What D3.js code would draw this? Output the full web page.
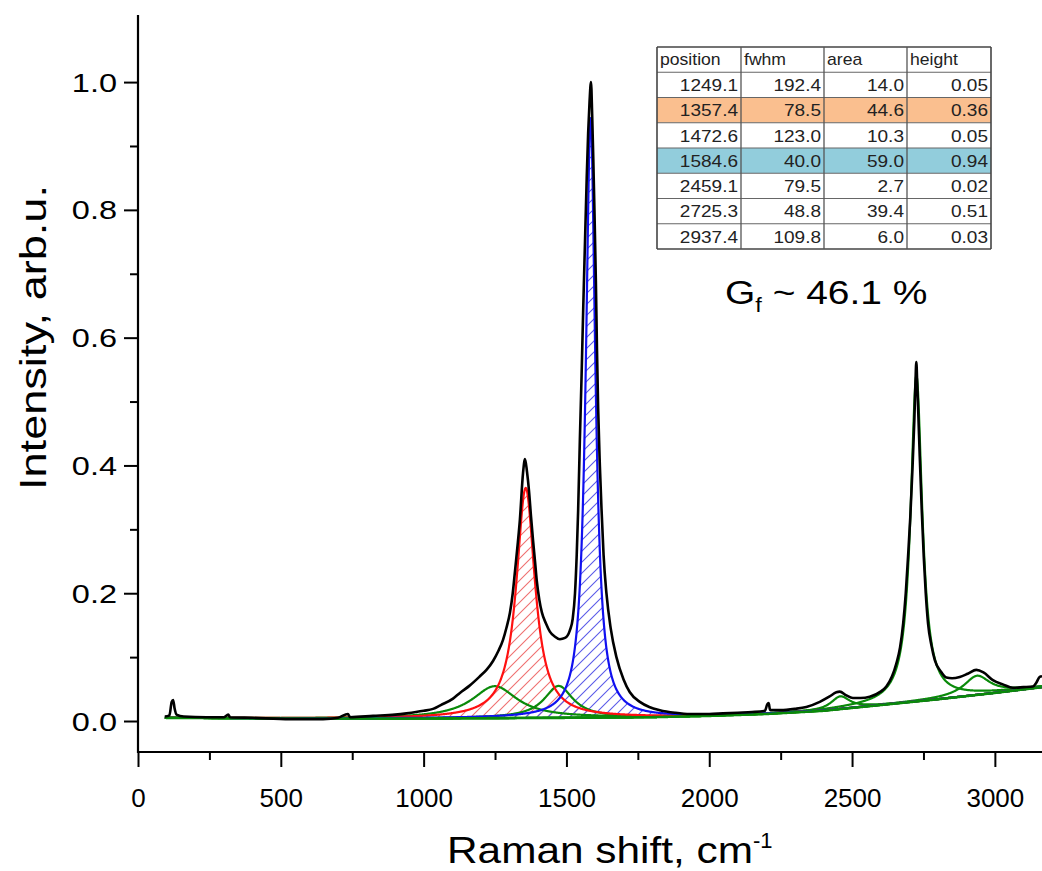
<!DOCTYPE html>
<html>
<head>
<meta charset="utf-8">
<script src="https://cdn.jsdelivr.net/npm/d3@7"></script>
<style>
  html, body { margin: 0; padding: 0; background: #fff; }
  svg { display: block; }
  text { font-family: "Liberation Sans", Arial, sans-serif; fill: #000; }
</style>
</head>
<body>
<svg id="chart" width="1042" height="871"></svg>
<script>
// ---------------- DATA ----------------
// Fit table (Lorentzian components)
const tableHeader = ["position", "fwhm", "area", "height"];
const peakPosition = [1249.1, 1357.4, 1472.6, 1584.6, 2459.1, 2725.3, 2937.4];
const peakFwhm     = [192.4, 78.5, 123.0, 40.0, 79.5, 48.8, 109.8];
const peakArea     = [14.0, 44.6, 10.3, 59.0, 2.7, 39.4, 6.0];
const peakHeight   = [0.05, 0.36, 0.05, 0.94, 0.02, 0.51, 0.03];

const spectrumShift = [94,110,118,123,128,135,160,240,300,316,322,400,532,648,700,735,742,823,900,940,1000,1033,1060,1103,1127,1160,1197,1220,1243,1262,1278,1290,1302,1312,1320,1330,1337,1348,1355,1362,1369,1376,1383,1390,1396,1405,1414,1428,1442,1460,1477,1495,1512,1522,1530,1536,1541,1547,1553,1559,1565,1571,1576,1581,1586,1590,1594,1598,1603,1607,1611,1617,1623,1630,1640,1655,1675,1700,1722,1757,1790,1827,1880,1932,2000,2048,2100,2150,2195,2203,2208,2213,2250,2300,2340,2387,2420,2445,2457,2480,2503,2530,2562,2600,2620,2640,2655,2668,2679,2688,2696,2704,2711,2718,2722,2725,2728,2732,2737,2744,2751,2758,2766,2778,2790,2810,2830,2850,2877,2905,2935,2960,2993,3030,3063,3100,3133,3145,3157,3165];
const spectrumIntensity = [0.007,0.009,0.030,0.033,0.020,0.010,0.007,0.006,0.006,0.010,0.006,0.005,0.003,0.003,0.005,0.011,0.006,0.008,0.010,0.012,0.016,0.019,0.025,0.035,0.044,0.055,0.070,0.080,0.094,0.110,0.127,0.146,0.169,0.200,0.235,0.280,0.315,0.388,0.410,0.390,0.360,0.320,0.283,0.250,0.220,0.190,0.170,0.153,0.140,0.132,0.128,0.130,0.142,0.160,0.200,0.260,0.330,0.440,0.540,0.650,0.750,0.850,0.920,0.970,1.000,0.950,0.880,0.800,0.690,0.580,0.490,0.400,0.330,0.260,0.200,0.145,0.100,0.065,0.045,0.030,0.022,0.017,0.013,0.011,0.011,0.012,0.013,0.014,0.016,0.026,0.028,0.017,0.017,0.019,0.022,0.030,0.038,0.045,0.046,0.040,0.036,0.036,0.038,0.046,0.054,0.070,0.090,0.115,0.153,0.200,0.257,0.320,0.390,0.470,0.530,0.562,0.530,0.480,0.414,0.330,0.257,0.200,0.153,0.118,0.095,0.078,0.068,0.067,0.069,0.074,0.080,0.076,0.064,0.057,0.052,0.053,0.054,0.060,0.069,0.070];

// Fitted baseline
const baselineShift = [94, 500, 1000, 1500, 1800, 2000, 2200, 2400, 2600, 2800, 3000, 3165];
const baselineValue = [0.005, 0.004, 0.004, 0.005, 0.006, 0.008, 0.011, 0.016, 0.025, 0.034, 0.044, 0.053];

// Axis ticks
const xTicks = [0, 500, 1000, 1500, 2000, 2500, 3000];
const xMinorTicks = [250, 750, 1250, 1750, 2250, 2750];
const yTicks = [0.0, 0.2, 0.4, 0.6, 0.8, 1.0];
const yMinorTicks = [0.1, 0.3, 0.5, 0.7, 0.9];

const fractionLabel = "46.1 %";

// ---------------- CHART ----------------
const svg = d3.select("#chart");
const X0 = 138, X1 = 1042, Y0 = 752, Y1 = 15;

const x = d3.scaleLinear().domain([0, 3165]).range([X0, X1]);
const y = d3.scaleLinear().domain([-0.0485, 1.105]).range([Y0, Y1]);
const baseline = d3.scaleLinear().domain(baselineShift).range(baselineValue).clamp(true);

const defs = svg.append("defs");
defs.append("clipPath").attr("id", "plotclip")
  .append("rect").attr("x", X0).attr("y", Y1).attr("width", X1 - X0).attr("height", Y0 - Y1);

function hatch(id, color) {
  const s = 11;
  const p = defs.append("pattern").attr("id", id)
    .attr("patternUnits", "userSpaceOnUse").attr("width", s).attr("height", s);
  p.append("path")
    .attr("d", `M0,${s} L${s},0 M${-s/2},${s/2} L${s/2},${-s/2} M${s/2},${s*1.5} L${s*1.5},${s/2}`)
    .attr("stroke", color).attr("stroke-width", 1.1);
}
hatch("hatchRed", "#ef7070");
hatch("hatchBlue", "#5a5ae8");

const plot = svg.append("g").attr("clip-path", "url(#plotclip)");

// Lorentzian component (from table parameters) on top of the baseline
const grid = d3.range(94, 3166, 1.5);
function comp(i) {
  const p = peakPosition[i], hw = peakFwhm[i] / 2, h = peakHeight[i];
  return grid.map(v => ({ v, b: baseline(v), c: baseline(v) + h / (1 + ((v - p) / hw) ** 2) }));
}
const compColor = i => i === 1 ? "#ff1010" : (i === 3 ? "#1010f0" : "#0a8a0a");

const area = d3.area().x(d => x(d.v)).y0(d => y(d.b)).y1(d => y(d.c));
const line = d3.line().x(d => x(d.v)).y(d => y(d.c));

// hatch fills for D and G bands
plot.append("path").datum(comp(1)).attr("d", area).attr("fill", "url(#hatchRed)");
plot.append("path").datum(comp(3)).attr("d", area).attr("fill", "url(#hatchBlue)");

// component lines: greens first, then red and blue
[0, 2, 4, 5, 6, 1, 3].forEach(i => {
  plot.append("path").datum(comp(i)).attr("d", line)
    .attr("fill", "none").attr("stroke", compColor(i)).attr("stroke-width", 2.2);
});

// baseline
plot.append("path")
  .datum(grid.map(v => ({ v, c: baseline(v) })))
  .attr("d", line).attr("fill", "none").attr("stroke", "#0a8a0a").attr("stroke-width", 2.6);

// measured spectrum
const spec = spectrumShift.map((v, i) => ({ v, c: spectrumIntensity[i] }));
plot.append("path").datum(spec)
  .attr("d", d3.line().x(d => x(d.v)).y(d => y(d.c)).curve(d3.curveMonotoneX))
  .attr("fill", "none").attr("stroke", "#000").attr("stroke-width", 2.6)
  .attr("stroke-linejoin", "round");

// ---------------- AXES ----------------
const xAxisG = svg.append("g").attr("transform", `translate(0,${Y0})`);
xAxisG.append("g").call(d3.axisBottom(x).tickValues(xTicks).tickSize(15).tickSizeOuter(0).tickFormat(d3.format("d")))
  .call(g => g.select(".domain").remove())
  .call(g => g.selectAll("line").attr("stroke-width", 2))
  .call(g => g.selectAll("text").attr("y", 55).attr("dy", 0)
     .style("font-size", "26px").style("font-family", "'Liberation Sans', Arial, sans-serif"));
xAxisG.append("g").call(d3.axisBottom(x).tickValues(xMinorTicks).tickSize(8).tickSizeOuter(0).tickFormat(""))
  .call(g => g.select(".domain").remove())
  .call(g => g.selectAll("line").attr("stroke-width", 2));
xAxisG.append("line").attr("x1", X0 - 1).attr("x2", X1).attr("y1", 0).attr("y2", 0)
  .attr("stroke", "#000").attr("stroke-width", 2.2);

const yAxisG = svg.append("g").attr("transform", `translate(${X0},0)`);
yAxisG.append("g").call(d3.axisLeft(y).tickValues(yTicks).tickSize(14).tickSizeOuter(0).tickFormat(d3.format(".1f")))
  .call(g => g.select(".domain").remove())
  .call(g => g.selectAll("line").attr("stroke-width", 2))
  .call(g => g.selectAll("text").attr("x", -21 / 1.3).attr("dy", "0.36em")
     .attr("transform", "scale(1.3,1)")
     .style("font-size", "25px").style("font-family", "'Liberation Sans', Arial, sans-serif"));
yAxisG.append("g").call(d3.axisLeft(y).tickValues(yMinorTicks).tickSize(8).tickSizeOuter(0).tickFormat(""))
  .call(g => g.select(".domain").remove())
  .call(g => g.selectAll("line").attr("stroke-width", 2));
yAxisG.append("line").attr("x1", 0).attr("x2", 0).attr("y1", Y1).attr("y2", Y0 + 1)
  .attr("stroke", "#000").attr("stroke-width", 2.2);

// axis titles
const xt = svg.append("text").attr("x", 447).attr("y", 863).style("font-size", "37px");
xt.append("tspan").text("Raman shift, cm").attr("textLength", 306).attr("lengthAdjust", "spacingAndGlyphs");
xt.append("tspan").text("-1").attr("dy", -15).style("font-size", "22px");

svg.append("text")
  .attr("transform", "translate(46,490) rotate(-90)")
  .attr("textLength", 305).attr("lengthAdjust", "spacingAndGlyphs")
  .style("font-size", "37px")
  .text("Intensity, arb.u.");

// ---------------- Gf annotation ----------------
const gf = svg.append("g").attr("transform", "translate(725,304) scale(1.18,1)")
  .append("text").style("font-size", "33px");
gf.append("tspan").text("G");
gf.append("tspan").text("f").attr("dy", 8).style("font-size", "20px");
gf.append("tspan").text(" ~ " + fractionLabel).attr("dy", -8);

// ---------------- TABLE ----------------
const tX = 657, tY = 47, rowH = 25.25;
const colX = [0, 84, 167, 250, 334];
const tbl = svg.append("g").attr("transform", `translate(${tX},${tY})`);
const rows = peakPosition.map((p, i) => [p.toFixed(1), peakFwhm[i].toFixed(1), peakArea[i].toFixed(1), peakHeight[i].toFixed(2)]);
const rowFill = i => i === 1 ? "#FABF8F" : (i === 3 ? "#92CDDC" : "#fff");

tbl.append("rect").attr("x", 0).attr("y", 0).attr("width", 334).attr("height", rowH * 8).attr("fill", "#fff");
rows.forEach((r, i) => {
  tbl.append("rect").attr("x", 0).attr("y", rowH * (i + 1)).attr("width", 334).attr("height", rowH)
    .attr("fill", rowFill(i));
});
for (let k = 0; k <= 8; k++) {
  tbl.append("line").attr("x1", 0).attr("x2", 334).attr("y1", k * rowH).attr("y2", k * rowH)
    .attr("stroke", k === 0 || k === 8 ? "#444" : "#666").attr("stroke-width", k === 0 || k === 8 ? 1.6 : 1.1);
}
colX.forEach((cx, k) => {
  tbl.append("line").attr("x1", cx).attr("x2", cx).attr("y1", 0).attr("y2", rowH * 8)
    .attr("stroke", k === 0 || k === 4 ? "#444" : "#555").attr("stroke-width", k === 0 || k === 4 ? 1.6 : 1.3);
});
tableHeader.forEach((h, k) => {
  tbl.append("g").attr("transform", `translate(${colX[k] + 3},${rowH - 7}) scale(1.1,1)`)
    .append("text").text(h).style("font-size", "16px").style("fill", "#222");
});
rows.forEach((r, i) => {
  r.forEach((val, k) => {
    tbl.append("g").attr("transform", `translate(${colX[k + 1] - 3},${rowH * (i + 2) - 6.5}) scale(1.12,1)`)
      .append("text").text(val).attr("text-anchor", "end").style("font-size", "17px").style("fill", "#222");
  });
});
</script>
</body>
</html>
